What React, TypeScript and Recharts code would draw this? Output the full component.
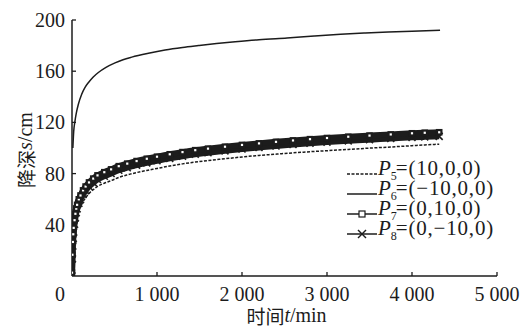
import React from 'react';
import { LineChart, Line, XAxis, YAxis } from 'recharts';

// time (min) for P5, P7, P8
const times = [0, 5, 10, 15, 20, 30, 40, 50, 60, 80, 100, 130, 160, 200, 250, 300, 380, 460, 550, 650, 760, 880, 1000, 1150, 1300, 1450, 1600, 1800, 2000, 2200, 2400, 2600, 2800, 3000, 3250, 3500, 3750, 4000, 4150, 4320];
const p5 = [0, 11, 20, 26, 30, 36, 40.5, 44, 47, 51, 54, 58, 61, 64.5, 67.5, 70, 72.5, 74.5, 77, 79, 80.8, 82.5, 84, 86, 87.6, 89, 90.2, 91.6, 93, 94.2, 95.2, 96.2, 97.1, 97.9, 98.9, 99.9, 100.8, 101.8, 102.4, 103];
const p7 = [2.6, 16.6, 26.6, 32.6, 37.6, 43.6, 48.6, 52.6, 55.6, 59.9, 62.9, 66.9, 69.9, 73.1, 76.1, 78.6, 81.1, 83.3, 85.8, 87.8, 89.8, 91.6, 93.2, 95.1, 96.8, 98.3, 99.5, 101, 102.4, 103.6, 104.8, 105.9, 106.9, 107.8, 108.8, 109.7, 110.6, 111.5, 111.9, 112.3];
const p8 = [0, 13.4, 23.4, 29.4, 34.4, 40.4, 45.4, 49.4, 52.4, 56.7, 59.7, 63.7, 66.7, 69.9, 72.9, 75.4, 77.9, 80.1, 82.6, 84.6, 86.6, 88.4, 90, 91.9, 93.6, 95.1, 96.3, 97.8, 99.2, 100.4, 101.6, 102.7, 103.7, 104.6, 105.6, 106.5, 107.4, 108.3, 108.7, 109.1];
// time (min) for P6
const times6 = [10, 20, 35, 50, 74, 114, 150, 192, 250, 310, 400, 506, 600, 703, 900, 1095, 1300, 1488, 1700, 1920, 2200, 2530, 2850, 3160, 3450, 3720, 4000, 4330];
const p6 = [100, 113, 121, 127, 134, 142, 147, 151, 155.5, 159, 163, 166.5, 169, 171, 174, 176.5, 178.5, 180, 181.6, 183, 184.6, 186, 187.5, 188.8, 189.8, 190.6, 191.3, 192];

const xTicks = [0, 1000, 2000, 3000, 4000, 5000];
const yTicks = [40, 80, 120, 160, 200];
const legendSubs = ['5', '6', '7', '8'];
const legendTexts = ['=(10,0,0)', '=(\u221210,0,0)', '=(0,10,0)', '=(0,\u221210,0)'];

const rows = (ts: number[], vs: number[]) => ts.map((t, i) => ({ t, v: vs[i] }));
const d5 = rows(times, p5);
const d6 = rows(times6, p6);
const d7 = rows(times, p7);
const d8 = rows(times, p8);

const SERIF = "Liberation Serif, Times New Roman, serif";
const CJK = "Noto Sans CJK SC, sans-serif";
const INK = '#1c1c1c';

const fmt = (v: number) => String(v).replace(/\B(?=(\d{3})+(?!\d))/g, ' ');

const XTick = (props: any) => {
  const { x, y, payload } = props;
  const v = payload.value;
  return (
    <g>
      {v !== 0 && <line x1={x} x2={x} y1={y} y2={y - 4} stroke={INK} strokeWidth={1.3} />}
      <text x={x + (v === 0 ? -12 : 0)} y={y + 18} textAnchor="middle" dominantBaseline="central"
        fontFamily={SERIF} fontSize={20} fill={INK}>{fmt(v)}</text>
    </g>
  );
};

const YTick = (props: any) => {
  const { x, y, payload } = props;
  return (
    <g>
      <line x1={x} x2={x + 4} y1={y} y2={y} stroke={INK} strokeWidth={1.3} />
      <text x={x - 7} y={y} textAnchor="end" dominantBaseline="central"
        fontFamily={SERIF} fontSize={20} fill={INK}>{payload.value}</text>
    </g>
  );
};

const SquareDot = (props: any) => {
  const { cx, cy } = props;
  if (cx == null || cy == null) return <g />;
  return <rect x={cx - 2.2} y={cy - 2.2} width={4.4} height={4.4} fill="#fff" stroke={INK} strokeWidth={2.2} />;
};

const CrossDot = (props: any) => {
  const { cx, cy } = props;
  if (cx == null || cy == null) return <g />;
  return (
    <g stroke={INK} strokeWidth={1.6}>
      <line x1={cx - 3.5} y1={cy - 3.5} x2={cx + 3.5} y2={cy + 3.5} />
      <line x1={cx - 3.5} y1={cy + 3.5} x2={cx + 3.5} y2={cy - 3.5} />
    </g>
  );
};

const LegendBox = () => (
  <svg width={190} height={100} style={{ display: 'block' }}>
    {legendSubs.map((s, i) => {
      const cy = 22 + i * 20;
      return (
        <g key={s}>
          <line x1={7} x2={37} y1={cy} y2={cy} stroke={INK} strokeWidth={1.5}
            strokeDasharray={i === 0 ? '3 1.5' : undefined} />
          {i === 2 && <rect x={19} y={cy - 3} width={6} height={6} fill="#fff" stroke={INK} strokeWidth={1.2} />}
          {i === 3 && (
            <g stroke={INK} strokeWidth={1.4}>
              <line x1={18} y1={cy - 4} x2={26} y2={cy + 4} />
              <line x1={18} y1={cy + 4} x2={26} y2={cy - 4} />
            </g>
          )}
          <text x={38} y={cy + 1} fontFamily={SERIF} fontSize={21} fill={INK}>
            <tspan fontStyle="italic">P</tspan>
            <tspan fontSize={12} dx={0} dy={5}>{s}</tspan>
            <tspan dy={-5} dx={-1} letterSpacing={0.8}>{legendTexts[i]}</tspan>
          </text>
        </g>
      );
    })}
  </svg>
);

const XLabel = (props: any) => {
  const vb = props.viewBox || { x: 72, y: 276, width: 425, height: 51 };
  return (
    <text x={vb.x + vb.width / 2 + 2} y={vb.y + 39} textAnchor="middle" dominantBaseline="central"
      fontFamily={SERIF} fontSize={20} fill={INK}>
      <tspan fontFamily={CJK} fontSize={19}>时间</tspan>
      <tspan fontStyle="italic">t</tspan>
      <tspan>/min</tspan>
    </text>
  );
};

const YLabel = (props: any) => {
  const vb = props.viewBox || { x: 0, y: 20, width: 72, height: 256 };
  const cx = vb.x + 25;
  const cy = vb.y + vb.height / 2 + 2;
  return (
    <text x={cx} y={cy} transform={`rotate(-90, ${cx}, ${cy})`} textAnchor="middle" dominantBaseline="central"
      fontFamily={SERIF} fontSize={20} fill={INK}>
      <tspan fontFamily={CJK} fontSize={19}>降深</tspan>
      <tspan fontStyle="italic">s</tspan>
      <tspan>/cm</tspan>
    </text>
  );
};

export default function App() {
  return (
    <div style={{ position: 'absolute', left: 0, top: 0, width: 528, height: 327, background: '#fff' }}>
      <LineChart width={528} height={327} margin={{ top: 20, right: 31, left: 0, bottom: 0 }}>
        <XAxis type="number" dataKey="t" domain={[0, 5000]} ticks={xTicks} height={51}
          tickLine={false} tickSize={0} tickMargin={0} tick={<XTick />} interval={0}
          axisLine={{ stroke: INK, strokeWidth: 1.5 }} label={<XLabel />} allowDataOverflow />
        <YAxis type="number" dataKey="v" domain={[0, 200]} ticks={yTicks} width={72}
          tickLine={false} tickSize={0} tickMargin={0} tick={<YTick />} interval={0}
          axisLine={{ stroke: INK, strokeWidth: 1.5 }} label={<YLabel />} allowDataOverflow />
        <Line data={d5} dataKey="v" type="monotone" stroke={INK} strokeWidth={1.5} strokeDasharray="3 1.5"
          dot={false} isAnimationActive={false} />
        <Line data={d8} dataKey="v" type="monotone" stroke={INK} strokeWidth={6} dot={<CrossDot />}
          isAnimationActive={false} />
        <Line data={d7} dataKey="v" type="monotone" stroke={INK} strokeWidth={6} dot={<SquareDot />}
          isAnimationActive={false} />
        <Line data={d6} dataKey="v" type="monotone" stroke={INK} strokeWidth={1.5} dot={false}
          isAnimationActive={false} />
      </LineChart>
      <div style={{ position: 'absolute', left: 340, top: 152 }}>
        <LegendBox />
      </div>
    </div>
  );
}
